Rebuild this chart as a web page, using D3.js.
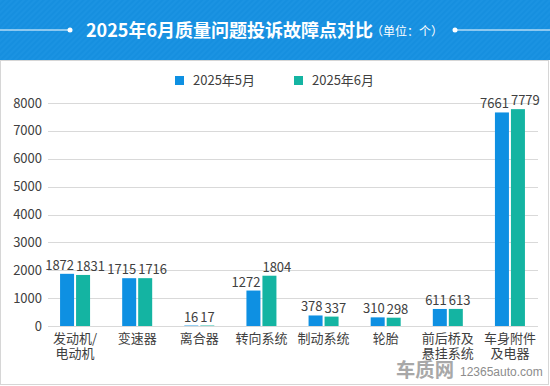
<!DOCTYPE html>
<html><head><meta charset="utf-8">
<script src="https://cdn.jsdelivr.net/npm/d3@7/dist/d3.min.js"></script>
<style>
html,body{margin:0;padding:0;background:#fff;}
svg{display:block;font-family:"Noto Sans CJK SC","Microsoft YaHei",sans-serif;}
</style></head>
<body><svg id="c" width="550" height="386"></svg>
<script>
const categories = [["发动机/","电动机"],["变速器"],["离合器"],["转向系统"],["制动系统"],["轮胎"],["前后桥及","悬挂系统"],["车身附件","及电器"]];
const may2025 = [1872,1715,16,1272,378,310,611,7661];
const jun2025 = [1831,1716,17,1804,337,298,613,7779];
const seriesNames = ["2025年5月","2025年6月"];
const yTicks = [0,1000,2000,3000,4000,5000,6000,7000,8000];
const colors = ["#0e90e2","#14b4a2"];

const svg = d3.select("#c");
// title band
const defs = svg.append("defs");
const pat = defs.append("pattern").attr("id","stripe").attr("patternUnits","userSpaceOnUse")
  .attr("width",4).attr("height",4).attr("patternTransform","rotate(45)");
pat.append("rect").attr("width",4).attr("height",4).attr("fill","#168fdf");
pat.append("rect").attr("width",2).attr("height",4).attr("fill","#1b93e2");
svg.append("rect").attr("x",0).attr("y",0).attr("width",550).attr("height",60).attr("fill","url(#stripe)");
// panel
svg.append("rect").attr("x",0.5).attr("y",60.5).attr("width",548).attr("height",324)
  .attr("fill","#fff").attr("stroke","#d6d6d6").attr("stroke-width",1);

const tg = svg.append("g");
tg.append("line").attr("x1",0).attr("x2",70).attr("y1",30).attr("y2",30).attr("stroke","#fff").attr("stroke-width",1);
tg.append("circle").attr("cx",70).attr("cy",30).attr("r",2.5).attr("fill","#fff");
tg.append("line").attr("x1",455).attr("x2",550).attr("y1",30).attr("y2",30).attr("stroke","#fff").attr("stroke-width",1);
tg.append("circle").attr("cx",455).attr("cy",30).attr("r",2.5).attr("fill","#fff");
tg.append("text").attr("x",86).attr("y",37).attr("fill","#fff")
  .attr("font-size",18).attr("font-weight","bold").text("2025年6月质量问题投诉故障点对比");
tg.append("text").attr("x",371).attr("y",36).attr("fill","#fff")
  .attr("font-size",12).text("（单位：个）");

// scales
const x0 = d3.scaleBand().domain(d3.range(categories.length)).range([44,541]).paddingInner(0).paddingOuter(0);
const y = d3.scaleLinear().domain([0,8000]).range([326,103]);
const bw = 14, gap = 2;

// grid
const gy = svg.append("g");
gy.selectAll("line").data(yTicks).join("line")
  .attr("x1",48).attr("x2",538).attr("y1",d=>Math.round(y(d))+0.5).attr("y2",d=>Math.round(y(d))+0.5)
  .attr("stroke","#d9d9d9");
gy.selectAll("text").data(yTicks).join("text")
  .attr("x",42).attr("y",d=>y(d)+4.5).attr("text-anchor","end").attr("font-size",13).attr("fill","#404040")
  .text(d=>d);

// bars
const series = [may2025, jun2025];
const bx = (i,s) => x0(i) + x0.bandwidth()/2 - bw - gap/2 + s*(bw+gap);
series.forEach((vals,s)=>{
  svg.append("g").selectAll("rect").data(vals).join("rect")
    .attr("x",(d,i)=>bx(i,s)).attr("width",bw)
    .attr("y",d=>y(d)).attr("height",d=>y(0)-y(d)).attr("fill",colors[s]);
});

// value labels with simple horizontal de-overlap
const lg = svg.append("g").attr("font-size",13).attr("fill","#404040");
categories.forEach((c,i)=>{
  const t = series.map((vals,s)=>lg.append("text").attr("text-anchor","middle")
     .attr("x",bx(i,s)+bw/2).attr("y",y(vals[i])-4).text(vals[i]));
  const w = t.map(n=>n.node().getComputedTextLength());
  const ov = (w[0]/2 + w[1]/2) - (bw+gap) + 2;
  if (ov>0){
    t[0].attr("x",bx(i,0)+bw/2 - ov/2);
    t[1].attr("x",bx(i,1)+bw/2 + ov/2);
  }
});

// category labels
const cg = svg.append("g").attr("font-size",13).attr("fill","#404040").attr("text-anchor","middle");
categories.forEach((lines,i)=>{
  lines.forEach((l,k)=>cg.append("text").attr("x",x0(i)+x0.bandwidth()/2).attr("y",343+k*15).text(l));
});

// legend
const leg = svg.append("g");
const legX = [175,294];
seriesNames.forEach((n,s)=>{
  leg.append("rect").attr("x",legX[s]).attr("y",76).attr("width",9).attr("height",9).attr("fill",colors[s]);
  leg.append("text").attr("x",legX[s]+18).attr("y",85).attr("font-size",13).attr("fill","#404040").text(n);
});

// watermark
const wm = svg.append("g");
wm.append("text").attr("x",396).attr("y",377).attr("font-size",19).attr("font-weight","bold").attr("fill","#a8a8a8")
  .attr("textLength",58).attr("lengthAdjust","spacingAndGlyphs").text("车质网");
wm.append("text").attr("x",460).attr("y",376).attr("font-size",12).attr("font-family","Liberation Sans, Arial, sans-serif")
  .attr("fill","#8c8c8c").text("12365auto.com");
</script></body></html>
